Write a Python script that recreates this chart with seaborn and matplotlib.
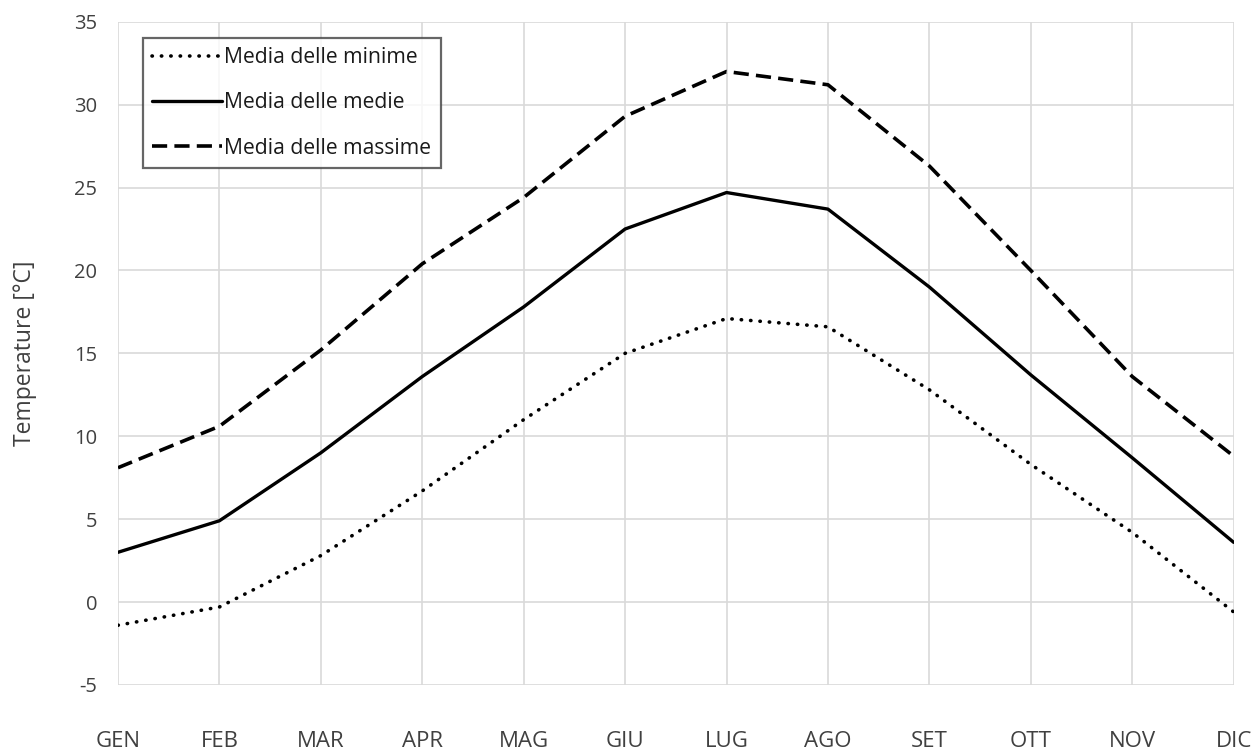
import pandas as pd
import numpy as np
import matplotlib
matplotlib.use("Agg")
import matplotlib.pyplot as plt
import seaborn as sns

# dati
mesi = ['GEN', 'FEB', 'MAR', 'APR', 'MAG', 'GIU', 'LUG', 'AGO', 'SET', 'OTT', 'NOV', 'DIC']
minime = [-1.4, -0.3, 2.8, 6.7, 11.0, 15.0, 17.1, 16.6, 12.8, 8.3, 4.2, -0.6]
medie = [3.0, 4.9, 9.0, 13.6, 17.8, 22.5, 24.7, 23.7, 19.0, 13.7, 8.7, 3.6]
massime = [8.1, 10.6, 15.2, 20.4, 24.4, 29.3, 32.0, 31.2, 26.3, 20.0, 13.6, 8.8]
y_ticks = [-5, 0, 5, 10, 15, 20, 25, 30, 35]

sns.set_style("white")
plt.rcParams['font.family'] = ['Open Sans', 'DejaVu Sans']

x = np.arange(len(mesi))

fig = plt.figure(figsize=(12.55, 7.51), dpi=100)
ax = fig.add_axes([0.094, 0.088, 0.889, 0.883])

sns.lineplot(x=x, y=minime, ax=ax, color='black', linewidth=2.6,
             linestyle=(0, (0.1, 2.5)), dash_capstyle='round',
             label='Media delle minime')
sns.lineplot(x=x, y=medie, ax=ax, color='black', linewidth=2.4,
             label='Media delle medie')
sns.lineplot(x=x, y=massime, ax=ax, color='black', linewidth=2.6,
             linestyle=(0, (4.2, 2.0)), label='Media delle massime')

ax.set_xlim(0, len(mesi) - 1)
ax.set_ylim(-5, 35)
ax.set_xticks(x)
ax.set_xticklabels(mesi)
ax.set_yticks(y_ticks)
ax.set_yticklabels([str(v) for v in y_ticks])
ax.grid(True, color='#d9d9d9', linewidth=1.2)
ax.set_axisbelow(True)
for s in ax.spines.values():
    s.set_visible(False)

ax.tick_params(axis='x', length=0, pad=33, labelsize=16, labelcolor='#404040')
ax.tick_params(axis='y', length=0, pad=15, labelsize=14.5, labelcolor='#404040')
ax.set_ylabel('Temperature [°C]', fontsize=16.5, color='#404040')
ax.yaxis.set_label_coords(-0.073, 0.5)

leg = ax.legend(loc='upper left', bbox_to_anchor=(0.0224, 0.976), fontsize=15.2,
                frameon=True, fancybox=False, edgecolor='#404040',
                handlelength=3.3, handletextpad=0.1, labelspacing=1.15,
                borderpad=0.45, borderaxespad=0)
leg.get_frame().set_linewidth(1.6)
for t in leg.get_texts():
    t.set_color('#1a1a1a')

plt.savefig('out.png', dpi=100)
